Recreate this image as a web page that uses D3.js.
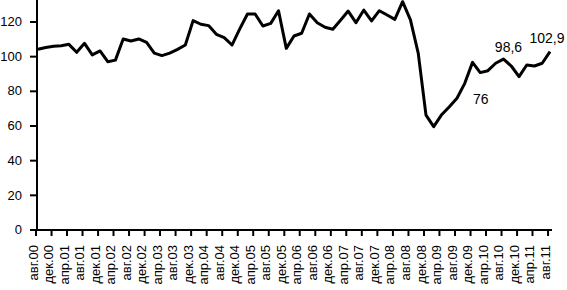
<!DOCTYPE html>
<html>
<head>
<meta charset="utf-8">
<script src="https://cdn.jsdelivr.net/npm/d3@7"></script>
<style>
body { margin: 0; background: #fff; }
svg text { font-family: "Liberation Sans", Arial, sans-serif; fill: #000; }
</style>
</head>
<body>
<svg id="chart"></svg>
<script>
// index values, every second month from aug 2000 to aug 2011
let periods = [
    "2000-08", "2000-10", "2000-12", "2001-02", "2001-04", "2001-06", "2001-08", "2001-10", "2001-12",
    "2002-02", "2002-04", "2002-06", "2002-08", "2002-10", "2002-12", "2003-02", "2003-04", "2003-06",
    "2003-08", "2003-10", "2003-12", "2004-02", "2004-04", "2004-06", "2004-08", "2004-10", "2004-12",
    "2005-02", "2005-04", "2005-06", "2005-08", "2005-10", "2005-12", "2006-02", "2006-04", "2006-06",
    "2006-08", "2006-10", "2006-12", "2007-02", "2007-04", "2007-06", "2007-08", "2007-10", "2007-12",
    "2008-02", "2008-04", "2008-06", "2008-08", "2008-10", "2008-12", "2009-02", "2009-04", "2009-06",
    "2009-08", "2009-10", "2009-12", "2010-02", "2010-04", "2010-06", "2010-08", "2010-10", "2010-12",
    "2011-02", "2011-04", "2011-06", "2011-08"
];

let values = [
    104.3, 105.3, 106.0, 106.3, 107.1, 102.5, 107.7, 101.0, 103.3,
    97.1, 98.0, 110.2, 109.0, 110.2, 108.3, 102.0, 100.6, 102.0,
    104.2, 106.7, 120.8, 118.7, 117.9, 112.9, 111.0, 106.7, 116.0,
    124.6, 124.6, 117.7, 119.2, 126.5, 104.8, 111.9, 113.5, 124.6,
    119.6, 117.0, 115.8, 121.0, 126.3, 119.6, 126.9, 120.6, 126.5,
    124.0, 121.5, 131.7, 121.2, 102.0, 66.3, 59.6, 66.3, 71.0,
    76.0, 84.6, 96.7, 90.8, 91.9, 96.2, 98.6, 94.6, 88.5,
    95.2, 94.6, 96.2, 102.9
];

let tick_labels = [
    "авг.00", "дек.00", "апр.01", "авг.01", "дек.01", "апр.02", "авг.02", "дек.02", "апр.03",
    "авг.03", "дек.03", "апр.04", "авг.04", "дек.04", "апр.05", "авг.05", "дек.05", "апр.06",
    "авг.06", "дек.06", "апр.07", "авг.07", "дек.07", "апр.08", "авг.08", "дек.08", "апр.09",
    "авг.09", "дек.09", "апр.10", "авг.10", "дек.10", "апр.11", "авг.11"
];

let labelled = [
    { period: "2009-08", text: "76", dx: 16, dy: 6, anchor: "start" },
    { period: "2010-08", text: "98,6", dx: 5, dy: -7, anchor: "middle" },
    { period: "2011-08", text: "102,9", dx: -3, dy: -9, anchor: "middle" }
];

let width = 567;
let height = 290;

let parse = d3.timeParse("%Y-%m");
let first_month = parse(periods[0]);
let end_month = d3.timeMonth.offset(parse(periods[periods.length - 1]), 1);

let svg = d3.select("#chart")
    .attr("width", width)
    .attr("height", height);

let x = d3.scaleTime()
    .domain([first_month, end_month])
    .range([36, 552]);

let y = d3.scaleLinear()
    .domain([0, 140])
    .range([230, 230 - 140 * 34.67 / 20]);

// points sit in the middle of their month
function mid(p) {
    let m = parse(p);
    return (x(m) + x(d3.timeMonth.offset(m, 1))) / 2;
}

let data = periods.map(function (p, i) {
    return { period: p, value: values[i] };
});

let ticks = d3.timeMonth.range(first_month, end_month, 4);

let x_axis = svg.append("g")
    .attr("transform", "translate(0,230)")
    .call(d3.axisBottom(x)
        .tickValues(ticks)
        .tickSize(6)
        .tickSizeOuter(0)
        .offset(0)
        .tickFormat(function (d, i) { return tick_labels[i]; }));

x_axis.selectAll("text")
    .attr("transform", "rotate(-90)")
    .attr("text-anchor", "end")
    .attr("x", -15)
    .attr("y", -3)
    .attr("dy", "0.35em")
    .style("font-size", "13px");

let y_axis = svg.append("g")
    .attr("transform", "translate(37,0)")
    .call(d3.axisLeft(y)
        .tickValues([0, 20, 40, 60, 80, 100, 120])
        .tickSize(7)
        .tickSizeOuter(0)
        .tickPadding(8)
        .offset(0));

y_axis.selectAll("text")
    .style("font-size", "13px");

svg.selectAll(".domain, .tick line")
    .attr("stroke", "#000")
    .attr("stroke-width", 2);

let line = d3.line()
    .x(function (d) { return mid(d.period); })
    .y(function (d) { return y(d.value); });

svg.append("path")
    .datum(data)
    .attr("fill", "none")
    .attr("stroke", "#000")
    .attr("stroke-width", 3)
    .attr("stroke-linejoin", "round")
    .attr("d", line);

svg.append("g")
    .selectAll("text")
    .data(labelled)
    .enter().append("text")
    .attr("x", function (d) { return mid(d.period) + d.dx; })
    .attr("y", function (d) { return y(values[periods.indexOf(d.period)]) + d.dy; })
    .attr("text-anchor", function (d) { return d.anchor; })
    .style("font-size", "14px")
    .text(function (d) { return d.text; });
</script>
</body>
</html>
